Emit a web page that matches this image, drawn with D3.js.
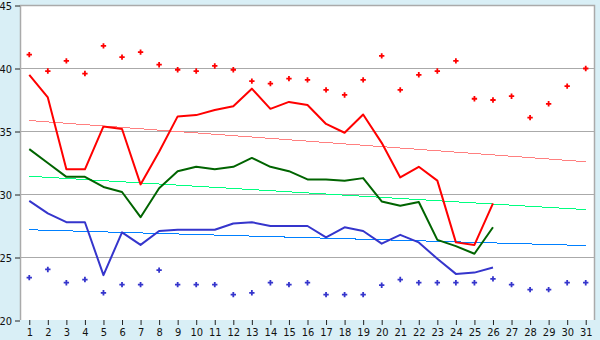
<!DOCTYPE html>
<html>
  <head>
    <meta charset="utf-8">
    <title>Temperatures</title>
    <script src="https://d3js.org/d3.v7.min.js"></script>
    <style>
      body { margin: 0; background: #d9eff6; }
      text { font-family: "DejaVu Sans Condensed", "DejaVu Sans", sans-serif; font-size: 11px; fill: #111; }
    </style>
  </head>
  <body>
    <svg id="chart" width="600" height="340"></svg>
    <script>
      const days = [1, 2, 3, 4, 5, 6, 7, 8, 9, 10, 11, 12, 13, 14, 15, 16, 17, 18, 19, 20, 21, 22, 23, 24, 25, 26, 27, 28, 29, 30, 31]
      const yTicks = [20, 25, 30, 35, 40, 45]

      // record highs / lows per day (markers)
      const maxPoints = [41.1, 39.8, 40.6, 39.6, 41.8, 40.9, 41.3, 40.3, 39.9, 39.8, 40.2, 39.9, 39.0, 38.8, 39.2, 39.1,
                         38.3, 37.9, 39.1, 41.0, 38.3, 39.5, 39.8, 40.6, 37.6, 37.5, 37.8, 36.1, 37.2, 38.6, 40.0]
      const minPoints = [23.4, 24.05, 23.0, 23.25, 22.2, 22.85, 22.85, 24.0, 22.85, 22.85, 22.85, 22.05, 22.2, 23.0, 22.85, 23.0,
                         22.05, 22.05, 22.05, 22.8, 23.25, 23.0, 23.0, 23.0, 23.0, 23.3, 22.85, 22.45, 22.45, 23.0, 23.0]

      // this month (days 1-26)
      const highs = [39.5, 37.7, 32.0, 32.0, 35.4, 35.2, 30.8, 33.4, 36.2, 36.3, 36.7, 37.0, 38.4, 36.8, 37.35, 37.1,
                     35.6, 34.9, 36.35, 34.1, 31.35, 32.2, 31.1, 26.2, 26.0, 29.3]
      const means = [33.6, 32.5, 31.4, 31.4, 30.6, 30.2, 28.2, 30.5, 31.85, 32.2, 32.0, 32.2, 32.9, 32.2, 31.85, 31.2,
                     31.2, 31.1, 31.3, 29.45, 29.1, 29.4, 26.4, 25.9, 25.3, 27.4]
      const lows = [29.5, 28.5, 27.8, 27.8, 23.6, 27.0, 26.0, 27.1, 27.2, 27.2, 27.2, 27.7, 27.8, 27.5, 27.5, 27.5,
                    26.6, 27.4, 27.1, 26.1, 26.8, 26.2, 24.9, 23.7, 23.8, 24.2]

      // normals: value on day 1 and day 31
      const highTrend = [35.87, 32.6]
      const meanTrend = [31.45, 28.8]
      const lowTrend = [27.2, 25.95]

      const mLeft = 20, mRight = 595, mTop = 5, mBottom = 320

      const svg = d3.select('#chart')

      const x = d3.scalePoint().domain(days).range([mLeft, mRight]).padding(0.5)
      const y = d3.scaleLinear().domain([20, 45]).range([mBottom + 0.5, mTop + 0.5])

      svg.append('rect')
        .attr('x', mLeft).attr('y', mTop)
        .attr('width', mRight - mLeft).attr('height', mBottom - mTop)
        .attr('fill', '#fff')

      // grid lines
      svg.append('g')
        .selectAll('line')
        .data(yTicks.filter(t => t > 20 && t < 45))
        .join('line')
          .attr('x1', mLeft).attr('x2', mRight)
          .attr('y1', d => y(d)).attr('y2', d => y(d))
          .attr('stroke', '#aaa')

      // frame: top, right, left
      svg.append('path')
        .attr('d', `M${mLeft + 0.5},${mBottom}V${mTop + 0.5}H${mRight - 0.5}V${mBottom}`)
        .attr('fill', 'none')
        .attr('stroke', '#aaa')
        .attr('stroke-width', 1.5)

      // axes
      const yAxis = svg.append('g')
        .attr('transform', `translate(${mLeft},0)`)
        .call(d3.axisLeft(y).tickValues(yTicks).tickSize(5).tickPadding(3))
      yAxis.select('.domain').remove()

      const xAxis = svg.append('g')
        .attr('transform', `translate(0,${mBottom})`)
        .call(d3.axisBottom(x).tickSize(5).tickPadding(3))
      xAxis.select('.domain').remove()

      svg.selectAll('.tick line').attr('stroke', '#222')
      svg.selectAll('.tick text')
        .attr('font-family', null).attr('font-size', null)
        .attr('fill', '#111')

      // trend lines
      const trends = [
        { v: highTrend, c: '#ff8080' },
        { v: meanTrend, c: '#00ff80' },
        { v: lowTrend, c: '#0080ff' }
      ]
      svg.append('g')
        .selectAll('line')
        .data(trends)
        .join('line')
          .attr('x1', x(days[0])).attr('x2', x(days[days.length - 1]))
          .attr('y1', d => y(d.v[0])).attr('y2', d => y(d.v[1]))
          .attr('stroke', d => d.c)
          .attr('stroke-width', 1)
          .attr('shape-rendering', 'crispEdges')

      // daily lines
      const line = d3.line()
        .x((d, i) => x(days[i]))
        .y(d => y(d))

      const series = [
        { v: highs, c: '#ff0000' },
        { v: means, c: '#006400' },
        { v: lows, c: '#3535cc' }
      ]
      svg.append('g')
        .selectAll('path')
        .data(series)
        .join('path')
          .attr('d', d => line(d.v))
          .attr('fill', 'none')
          .attr('stroke', d => d.c)
          .attr('stroke-width', 2)
          .attr('stroke-linejoin', 'round')

      // record markers
      const cross = d3.symbol().type(d3.symbolCross).size(16)
      const markers = [
        { v: maxPoints, c: '#ff0000' },
        { v: minPoints, c: '#3535cc' }
      ]
      markers.forEach(m => {
        svg.append('g')
          .selectAll('path')
          .data(m.v)
          .join('path')
            .attr('d', cross)
            .attr('transform', (d, i) => `translate(${x(days[i])},${y(d)})`)
            .attr('fill', m.c)
      })
    </script>
  </body>
</html>
